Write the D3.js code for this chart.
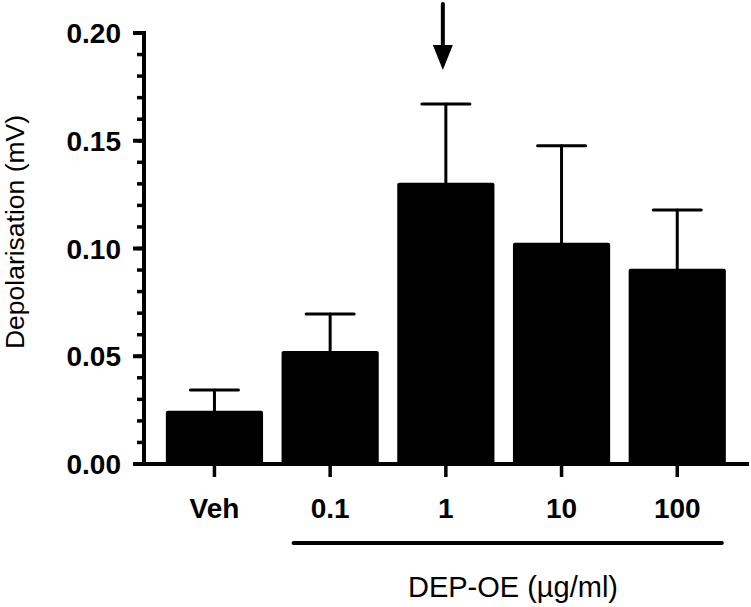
<!DOCTYPE html>
<html>
<head>
<meta charset="utf-8">
<script src="https://cdn.jsdelivr.net/npm/d3@7"></script>
<style>
  html, body { margin: 0; padding: 0; background: #fff; }
  svg { display: block; font-family: "Liberation Sans", Arial, Helvetica, sans-serif; }
</style>
</head>
<body>
<svg id="chart" width="751" height="607"></svg>
<script>
const categories = ["Veh", "0.1", "1", "10", "100"];
const means = [0.0247, 0.0524, 0.1305, 0.1027, 0.0906];
const sems = [0.0096, 0.0172, 0.0365, 0.0450, 0.0273];
const yTicks = [0.00, 0.05, 0.10, 0.15, 0.20];
const yMinorTicks = d3.range(0, 0.2001, 0.01);
const yTitle = "Depolarisation (mV)";
const xTitle = "DEP-OE (µg/ml)";
const arrowCategory = "1";
const bracketCategories = ["0.1", "100"];

const svg = d3.select("#chart");

const x = d3.scaleBand().domain(categories).range([156.6, 735.1]).paddingInner(0.16).paddingOuter(0.08);
const y = d3.scaleLinear().domain([0, 0.2]).range([464, 33]);

// Bars
svg.append("g").selectAll("rect").data(categories).join("rect")
  .attr("x", d => x(d))
  .attr("y", (d, i) => y(means[i]))
  .attr("width", x.bandwidth())
  .attr("height", (d, i) => y(0) - y(means[i]))
  .attr("rx", 2)
  .attr("fill", "#000");

// Error bars (upward only)
const eb = svg.append("g").attr("stroke", "#000").attr("stroke-width", 3).attr("stroke-linecap", "round");
categories.forEach((c, i) => {
  const cx = x(c) + x.bandwidth() / 2;
  eb.append("line").attr("x1", cx).attr("x2", cx).attr("y1", y(means[i])).attr("y2", y(means[i] + sems[i]));
  eb.append("line").attr("x1", cx - 24).attr("x2", cx + 24).attr("y1", y(means[i] + sems[i])).attr("y2", y(means[i] + sems[i]));
});

// Y axis
const yAxisX = 144;
const yAxis = svg.append("g").attr("transform", `translate(${yAxisX},0)`);
yAxis.append("line").attr("x1", 0).attr("x2", 0).attr("y1", y(0.2) - 2).attr("y2", y(0) + 2)
  .attr("stroke", "#000").attr("stroke-width", 4);
yAxis.selectAll("line.minor").data(yMinorTicks).join("line").attr("class", "minor")
  .attr("x1", -7).attr("x2", 0).attr("y1", d => y(d)).attr("y2", d => y(d))
  .attr("stroke", "#000").attr("stroke-width", 3.5);
yAxis.selectAll("line.major").data(yTicks).join("line").attr("class", "major")
  .attr("x1", -11).attr("x2", 0).attr("y1", d => y(d)).attr("y2", d => y(d))
  .attr("stroke", "#000").attr("stroke-width", 4);
yAxis.selectAll("text").data(yTicks).join("text")
  .attr("x", -23).attr("y", d => y(d)).attr("dy", "0.36em")
  .attr("text-anchor", "end").attr("font-weight", "bold").attr("font-size", 28)
  .text(d => d3.format(".2f")(d));

// X axis
const xAxis = svg.append("g");
xAxis.append("line").attr("x1", 133).attr("x2", 749).attr("y1", y(0)).attr("y2", y(0))
  .attr("stroke", "#000").attr("stroke-width", 4);
xAxis.selectAll("line.tick").data(categories).join("line").attr("class", "tick")
  .attr("x1", d => x(d) + x.bandwidth() / 2).attr("x2", d => x(d) + x.bandwidth() / 2)
  .attr("y1", y(0)).attr("y2", y(0) + 13)
  .attr("stroke", "#000").attr("stroke-width", 3.5);
xAxis.selectAll("text").data(categories).join("text")
  .attr("x", d => x(d) + x.bandwidth() / 2).attr("y", 518)
  .attr("text-anchor", "middle").attr("font-weight", "bold").attr("font-size", 28)
  .text(d => d);

// Bracket line under doses
svg.append("line")
  .attr("x1", x(bracketCategories[0]) + 12).attr("x2", x(bracketCategories[1]) + x.bandwidth() - 4)
  .attr("y1", 543).attr("y2", 543)
  .attr("stroke", "#000").attr("stroke-width", 4).attr("stroke-linecap", "round");

// X title
svg.append("text").attr("x", 513).attr("y", 597).attr("text-anchor", "middle")
  .attr("font-size", 29).text(xTitle);

// Y title
svg.append("text").attr("transform", "translate(24,232) rotate(-90)")
  .attr("text-anchor", "middle").attr("font-size", 26.5).text(yTitle);

// Arrow
const ax = x(arrowCategory) + x.bandwidth() / 2 - 3;
svg.append("line").attr("x1", ax).attr("x2", ax).attr("y1", 4).attr("y2", 50)
  .attr("stroke", "#000").attr("stroke-width", 4).attr("stroke-linecap", "round");
svg.append("path")
  .attr("d", `M${ax - 10},45 L${ax + 10},45 L${ax},70 Z`)
  .attr("fill", "#000");
</script>
</body>
</html>
